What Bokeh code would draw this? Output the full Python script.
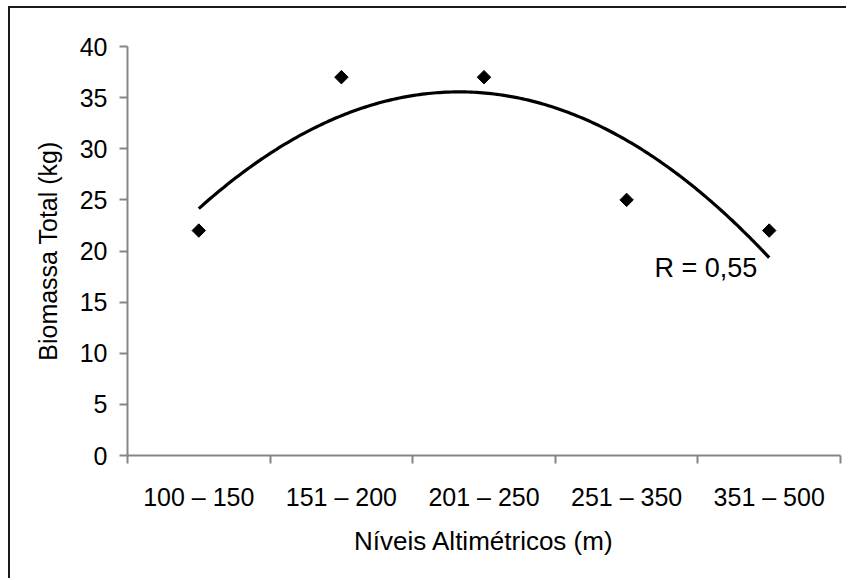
import numpy as np
from bokeh.plotting import figure
from bokeh.models import FixedTicker, Range1d, Label
from bokeh.embed import file_html
from bokeh.resources import INLINE

# ---- data ----
categories = ["100 – 150", "151 – 200", "201 – 250", "251 – 350", "351 – 500"]
biomass = [22, 37, 37, 25, 22]
y_ticks = [0, 5, 10, 15, 20, 25, 30, 35, 40]
r_text = "R = 0,55"
x_title = "Níveis Altimétricos (m)"
y_title = "Biomassa Total (kg)"

FONT = "Liberation Sans"
AXIS_GRAY = "#858585"

x_pos = list(range(1, len(categories) + 1))
coef = np.polyfit(x_pos, biomass, 2)          # 2nd-order trendline from the data
trend_x = np.linspace(x_pos[0], x_pos[-1], 200)
trend_y = np.polyval(coef, trend_x)

p = figure(width=838, height=572, output_backend="svg", toolbar_location=None,
           x_range=Range1d(0.5, len(categories) + 0.5), y_range=Range1d(0, 40),
           min_border_left=117, min_border_right=8, min_border_top=38, min_border_bottom=125)
p.margin = (6, 0, 0, 8)
p.styles = {"border-top": "2px solid #1a1a1a", "border-left": "2px solid #1a1a1a"}
p.outline_line_color = None
p.xgrid.visible = False
p.ygrid.visible = False
p.background_fill_color = "white"
p.border_fill_color = "white"

p.line(trend_x, trend_y, line_color="black", line_width=3.2)
p.scatter(x_pos, biomass, marker="square", angle=np.pi / 4, size=9.5,
          fill_color="black", line_color="black")

p.add_layout(Label(x=x_pos[-1], y=float(np.polyval(coef, x_pos[-1])), text=r_text,
                   text_align="right", text_baseline="alphabetic",
                   x_offset=-12, y_offset=-10,
                   text_font=FONT, text_font_size="27px", text_color="black"))

# x axis: labels at category centres, tick marks between categories
xa = p.xaxis[0]
xa.ticker = FixedTicker(ticks=x_pos, minor_ticks=[i + 0.5 for i in range(len(categories) + 1)])
xa.major_label_overrides = {i: c for i, c in zip(x_pos, categories)}
xa.major_tick_out = 0
xa.major_tick_in = 0
xa.minor_tick_out = 8
xa.minor_tick_in = 0
xa.minor_tick_line_color = AXIS_GRAY
xa.minor_tick_line_width = 2
xa.axis_line_color = AXIS_GRAY
xa.axis_line_width = 2
xa.major_label_standoff = 19
xa.major_label_text_font = FONT
xa.major_label_text_font_size = "25px"
xa.major_label_text_color = "black"
xa.axis_label = x_title
xa.axis_label_standoff = 12
xa.axis_label_text_font = FONT
xa.axis_label_text_font_size = "26px"
xa.axis_label_text_font_style = "normal"
xa.axis_label_text_color = "black"

ya = p.yaxis[0]
ya.ticker = FixedTicker(ticks=y_ticks)
ya.major_tick_out = 8
ya.major_tick_in = 0
ya.minor_tick_out = 0
ya.minor_tick_in = 0
ya.major_tick_line_color = AXIS_GRAY
ya.major_tick_line_width = 2
ya.axis_line_color = AXIS_GRAY
ya.axis_line_width = 2
ya.major_label_standoff = 12
ya.major_label_text_font = FONT
ya.major_label_text_font_size = "25px"
ya.major_label_text_color = "black"
ya.axis_label = y_title
ya.axis_label_standoff = 15
ya.axis_label_text_font = FONT
ya.axis_label_text_font_size = "25px"
ya.axis_label_text_font_style = "normal"
ya.axis_label_text_color = "black"

open("out.html", "w").write(file_html(p, INLINE))
